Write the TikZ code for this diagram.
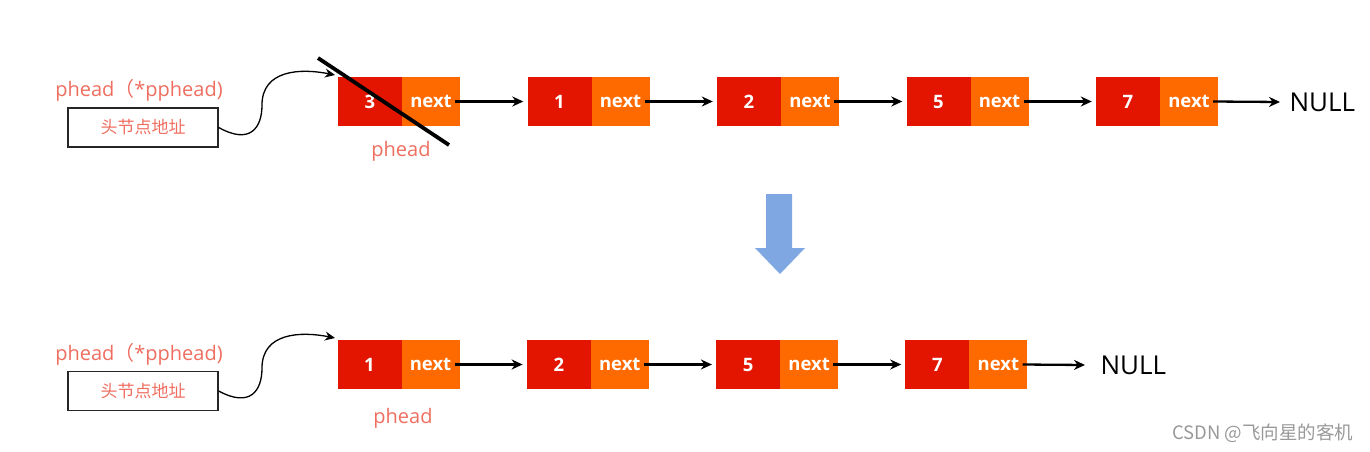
\documentclass[tikz,border=0pt]{standalone}
\usepackage{fontspec}
\setmainfont{Open Sans}
\newfontfamily\cjk{Noto Sans CJK SC}
\usetikzlibrary{arrows.meta}
\definecolor{nred}{HTML}{E31500}
\definecolor{norange}{HTML}{FF6A00}
\definecolor{salmon}{HTML}{EE6E60}
\definecolor{arrblue}{HTML}{7FA8E2}
\begin{document}
\begin{tikzpicture}[x=1pt,y=-1pt,
  valbox/.style={fill=nred,minimum width=64pt,minimum height=49pt,inner sep=0pt,text=white,font=\fontsize{18.5}{18.5}\selectfont\bfseries},
  nextbox/.style={fill=norange,minimum width=58pt,minimum height=49pt,inner sep=0pt,text=white,font=\fontsize{18.5}{18.5}\selectfont\bfseries},
  link/.style={-{Stealth[length=11pt,width=10pt]},line width=2.3pt},
  lbl/.style={text=salmon,font=\fontsize{20}{20}\selectfont},
  addr/.style={draw=black!85,line width=1.4pt,minimum width=150pt,minimum height=39pt,inner sep=0pt,text=salmon,font=\cjk\fontsize{17}{17}\selectfont},
  nulltxt/.style={font=\fontsize{26}{26}\selectfont}]
\useasboundingbox (0,0) rectangle (1370,452);
% ---------- top row
\foreach \i/\v in {0/3,1/1,2/2,3/5,4/7}{
  \node[valbox] (tv\i) at ({370+189.5*\i},101.5) {\v};
  \node[nextbox,anchor=west] (tn\i) at ([xshift=-0.4pt]tv\i.east) {next};
}
\foreach \i/\j in {0/1,1/2,2/3,3/4}{
  \draw[link] ([xshift=-5pt]tn\i.east) -- ([xshift=-4pt]tv\j.west);
}
\node[nulltxt,anchor=west] (tnull) at (1286,102) {NULL};
\draw[link] ([xshift=-5pt]tn4.east) -- ([xshift=-6pt]tnull.west);
\node[lbl] (tph) at (401,151) {phead};
\node[addr] (taddr) at (143,127.5) {头节点地址};
\node[lbl] (tlab) at (139,90) {phead{\cjk （}*pphead)};
\coordinate (ttip) at (335,75);
\draw[link,line width=1.3pt,-{Stealth[length=10pt,width=9pt]}] (taddr.east) .. controls (250,145) and (262,128) .. (262,105)
  .. controls (262,70) and (300,68) .. (ttip);
\coordinate (s1) at (318,58);
\coordinate (s2) at (449,145);
\draw[line width=3.8pt] (s1) -- (s2);
% ---------- blue arrow
\fill[arrblue] (766,194) -- (792,194) -- (792,248) -- (805,248) -- (780,274) -- (755,248) -- (766,248) -- cycle;
% ---------- bottom row
\foreach \i/\v in {0/1,1/2,2/5,3/7}{
  \node[valbox] (bv\i) at ({369.5+189.3*\i},364.5) {\v};
  \node[nextbox,anchor=west] (bn\i) at ([xshift=-0.4pt]bv\i.east) {next};
}
\foreach \i/\j in {0/1,1/2,2/3}{
  \draw[link] ([xshift=-5pt]bn\i.east) -- ([xshift=-4pt]bv\j.west);
}
\node[nulltxt,anchor=west] (bnull) at (1097,365) {NULL};
\draw[link] ([xshift=-5pt]bn3.east) -- ([xshift=-12pt]bnull.west);
\node[lbl] (bph) at (403,418) {phead};
\node[addr] (baddr) at (143,391) {头节点地址};
\node[lbl] (blab) at (139,354) {phead{\cjk （}*pphead)};
\coordinate (btip) at (335,338);
\draw[link,line width=1.3pt,-{Stealth[length=10pt,width=9pt]}] (baddr.east) .. controls (250,408) and (262,391) .. (262,368)
  .. controls (262,333) and (300,331) .. (btip);
% ---------- watermark
\node[text=black!40,font=\cjk\fontsize{18.5}{18.5}\selectfont,anchor=east] (wm) at (1357,433) {CSDN @飞向星的客机};
\end{tikzpicture}
\end{document}
